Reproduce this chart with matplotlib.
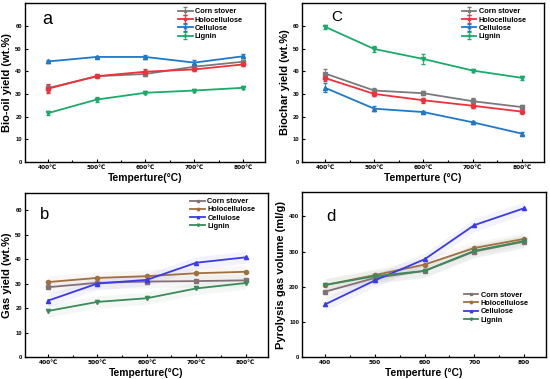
import matplotlib
matplotlib.use("Agg")
import matplotlib.pyplot as plt
import numpy as np

temps_c = ["400℃", "500℃", "600℃", "700℃", "800℃"]
temps_n = ["400", "500", "600", "700", "800"]
series = ["Corn stover", "Holocellulose", "Cellulose", "Lignin"]

bio_oil = {
    "Corn stover": [32.5, 37.8, 38.8, 42.0, 44.2],
    "Holocellulose": [32.3, 37.8, 39.8, 40.8, 43.0],
    "Cellulose": [44.3, 46.3, 46.3, 43.8, 46.6],
    "Lignin": [21.5, 27.5, 30.5, 31.5, 32.7],
}
bio_oil_err = {
    "Corn stover": [1.5, 0.5, 1.0, 0.8, 0.6],
    "Holocellulose": [2.0, 0.5, 1.2, 0.8, 0.8],
    "Cellulose": [0.8, 0.6, 0.8, 1.2, 0.8],
    "Lignin": [0.8, 1.0, 0.6, 0.8, 0.6],
}
biochar = {
    "Corn stover": [39.0, 31.5, 30.3, 26.8, 24.2],
    "Holocellulose": [37.0, 30.0, 27.2, 24.8, 22.2],
    "Cellulose": [32.7, 23.5, 22.0, 17.5, 12.5],
    "Lignin": [59.6, 49.8, 45.4, 40.3, 37.1],
}
biochar_err = {
    "Corn stover": [1.8, 1.0, 0.8, 1.5, 0.8],
    "Holocellulose": [1.2, 0.8, 1.2, 0.8, 0.8],
    "Cellulose": [2.0, 1.0, 0.6, 0.6, 0.6],
    "Lignin": [0.8, 1.2, 2.2, 0.6, 0.8],
}
gas = {
    "Corn stover": [28.5, 30.3, 30.8, 31.0, 31.3],
    "Holocellulose": [30.6, 32.3, 33.0, 34.2, 34.8],
    "Cellulose": [23.0, 30.0, 31.5, 38.5, 40.7],
    "Lignin": [18.8, 22.5, 24.0, 28.0, 30.2],
}
gas_vol = {
    "Corn stover": [186, 225, 245, 300, 328],
    "Holocellulose": [205, 233, 263, 310, 336],
    "Cellulose": [150, 218, 278, 375, 423],
    "Lignin": [205, 230, 245, 302, 330],
}

colors_top = {"Corn stover": "#7a7a7a", "Holocellulose": "#f0303a",
              "Cellulose": "#1f78c8", "Lignin": "#1aaa6a"}
colors_bot = {"Corn stover": "#857078", "Holocellulose": "#a07040",
              "Cellulose": "#3a3ae8", "Lignin": "#3a8a5a"}
markers = {"Corn stover": "s", "Holocellulose": "o", "Cellulose": "^", "Lignin": "v"}

plt.rcParams['font.family'] = ['Liberation Sans', 'DejaVu Sans']
fig = plt.figure(figsize=(5.5, 3.79), dpi=100)

positions = {
    "a": [0.045, 0.5726, 0.437, 0.419],
    "c": [0.549, 0.5726, 0.440, 0.419],
    "b": [0.045, 0.058, 0.442, 0.433],
    "d": [0.549, 0.058, 0.444, 0.435],
}

x = np.arange(5)
leg_prop = {'size': 5.3, 'weight': 'bold'}

def style_ax(ax, ticklabels, ylim, yticks, ylabel, xlabel):
    ax.set_xlim(-0.47, 4.45)
    ax.set_ylim(*ylim)
    ax.set_xticks(x)
    ax.set_xticklabels(ticklabels, fontsize=4.2, fontweight='bold',
                       family=['DejaVu Sans'])
    ax.set_xticks(x[:-1] + 0.5, minor=True)
    ax.set_yticks(yticks)
    ax.set_yticklabels([str(t) for t in yticks], fontsize=4.2, fontweight='bold')
    ax.tick_params(which='both', direction='in', length=2, width=0.8, pad=2)
    ax.tick_params(which='minor', length=1.2)
    ax.tick_params(axis='y', which='minor', left=False)
    for s in ax.spines.values():
        s.set_linewidth(1.0)
    ax.set_ylabel(ylabel, fontsize=8, fontweight='bold', labelpad=2)
    ax.set_xlabel(xlabel, fontsize=7.4, fontweight='bold', labelpad=2)

# a
ax = fig.add_axes(positions["a"])
for s in series:
    ax.errorbar(x, bio_oil[s], yerr=bio_oil_err[s], color=colors_top[s], marker=markers[s],
                ms=3, lw=1.3, elinewidth=0.6, capsize=1.5, ecolor=colors_top[s], label=s)
style_ax(ax, temps_c, (0, 70), [0, 10, 20, 30, 40, 50, 60], "Bio-oil yield (wt.%)", "Temperture(°C)")
ax.text(0.095, 0.9, "a", transform=ax.transAxes, fontsize=13, va='center', ha='center')
ax.legend(loc='upper right', bbox_to_anchor=(0.93, 1.0), frameon=False,
          prop=leg_prop, handlelength=2.0, labelspacing=0.15,
          handletextpad=0.3, borderaxespad=0.3, markerscale=0.6)

# c
ax = fig.add_axes(positions["c"])
for s in series:
    ax.errorbar(x, biochar[s], yerr=biochar_err[s], color=colors_top[s], marker=markers[s],
                ms=3, lw=1.3, elinewidth=0.6, capsize=1.5, ecolor=colors_top[s], label=s)
style_ax(ax, temps_c, (0, 70), [0, 10, 20, 30, 40, 50, 60], "Biochar yield (wt.%)", "Temperture (°C)")
ax.text(0.145, 0.915, "C", transform=ax.transAxes, fontsize=11, va='center', ha='center')
ax.legend(loc='upper right', bbox_to_anchor=(0.95, 1.0), frameon=False,
          prop=leg_prop, handlelength=2.0, labelspacing=0.15,
          handletextpad=0.3, borderaxespad=0.3, markerscale=0.6)

# b
ax = fig.add_axes(positions["b"])
for s in series:
    y = np.array(gas[s])
    ax.fill_between(x, y - 2.5, y + 2.5, color=colors_bot[s], alpha=0.06, lw=0)
    ax.plot(x, y, color=colors_bot[s], marker=markers[s], ms=3, lw=1.3, label=s)
style_ax(ax, temps_c, (0, 67), [0, 10, 20, 30, 40, 50, 60], "Gas yield (wt.%)", "Temperture(°C)")
ax.text(0.08, 0.87, "b", transform=ax.transAxes, fontsize=12, va='center', ha='center')
ax.legend(loc='upper right', bbox_to_anchor=(0.97, 1.0), frameon=False,
          prop=leg_prop, handlelength=2.0, labelspacing=0.15,
          handletextpad=0.3, borderaxespad=0.3, markerscale=0.6)

# d
ax = fig.add_axes(positions["d"])
for s in series:
    y = np.array(gas_vol[s])
    ax.fill_between(x, y - 18, y + 18, color=colors_bot[s], alpha=0.06, lw=0)
    ax.plot(x, y, color=colors_bot[s], marker=markers[s], ms=3, lw=1.3, label=s)
style_ax(ax, temps_n, (0, 469), [0, 100, 200, 300, 400], "Pyrolysis gas volume (ml/g)", "Temperture (°C)")
ax.text(0.12, 0.855, "d", transform=ax.transAxes, fontsize=12, va='center', ha='center')
ax.legend(loc='center right', bbox_to_anchor=(0.95, 0.3), frameon=False,
          prop=leg_prop, handlelength=2.0, labelspacing=0.15,
          handletextpad=0.3, borderaxespad=0.3, markerscale=0.6)

fig.savefig("out.png", dpi=100)
